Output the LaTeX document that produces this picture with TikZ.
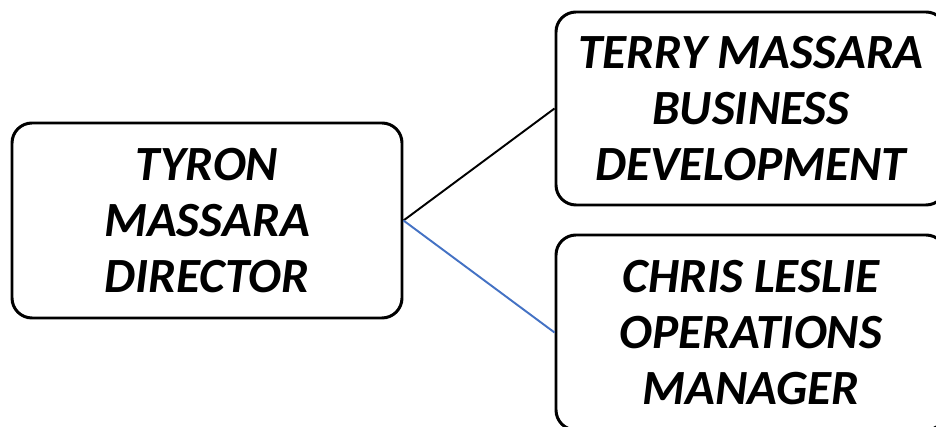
\documentclass[tikz,border=0pt]{standalone}
\usepackage{fontspec}
\setmainfont{Carlito}
\usepackage{tikz}
\definecolor{linkblue}{RGB}{68,114,196}

\begin{document}
\begin{tikzpicture}[
  staffbox/.style={draw,line width=1.7pt,rounded corners=0.4cm,align=center,
    minimum width=7.8cm,minimum height=3.9cm,inner sep=0pt,
    font=\fontsize{28}{32}\selectfont\bfseries\itshape}]
\useasboundingbox (0,0) rectangle (18.72,8.54);
\node[staffbox] (dir) at (4.14,4.13) {TYRON\\MASSARA\\DIRECTOR};
\node[staffbox,minimum height=3.86cm] (bus) at (15.02,6.37) {TERRY MASSARA\\BUSINESS\\DEVELOPMENT};
\node[staffbox] (ops) at (15.02,1.89) {CHRIS LESLIE\\OPERATIONS\\MANAGER};
\draw[line width=1.1pt] (dir.east) -- (bus.west);
\draw[line width=1.1pt,linkblue] (dir.east) -- (ops.west);
\end{tikzpicture}
\end{document}
